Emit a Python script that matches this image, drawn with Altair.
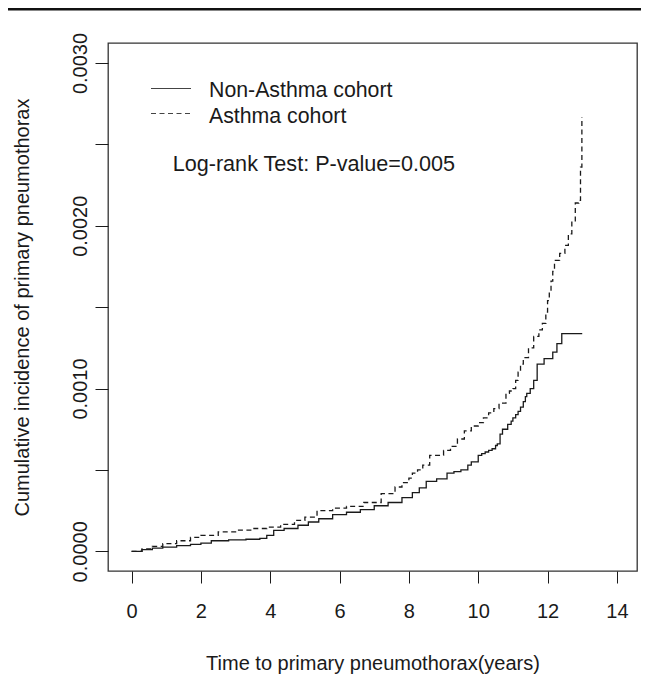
import altair as alt
import pandas as pd

# Non-Asthma cohort (solid)
non_t = [0, 0.3, 0.6, 0.9, 1.3, 1.7, 2.0, 2.3, 2.8, 3.3, 3.7, 3.9, 4.1, 4.4, 4.8, 5.1, 5.4, 5.8, 6.2, 6.6,
         7.0, 7.4, 7.8, 8.1, 8.3, 8.5, 8.8, 9.1, 9.3, 9.5, 9.7, 9.8, 10.0, 10.1, 10.2, 10.3, 10.4, 10.5, 10.55,
         10.63, 10.7, 10.85, 10.95, 11.0, 11.08, 11.15, 11.22, 11.3, 11.36, 11.4, 11.5, 11.6, 11.7, 11.9, 12.15,
         12.27, 12.41, 13.0]
non_v = [0, 0.000010, 0.000020, 0.000026, 0.000035, 0.000042, 0.000050, 0.000065, 0.000070, 0.000074,
         0.000080, 0.000098, 0.000129, 0.000140, 0.000160, 0.000180, 0.000200, 0.000225, 0.000240, 0.000256,
         0.000280, 0.000300, 0.000330, 0.000360, 0.000390, 0.000430, 0.000445, 0.000480, 0.000490, 0.000500,
         0.000530, 0.000550, 0.000590, 0.000600, 0.000610, 0.000620, 0.000630, 0.000650, 0.000660,
         0.000720, 0.000750, 0.000780, 0.000800, 0.000820, 0.000840, 0.000860, 0.000886, 0.000920, 0.000950,
         0.000970, 0.001000, 0.001050, 0.001150, 0.001184, 0.001224, 0.001276, 0.001337, 0.001337]

# Asthma cohort (dashed)
ast_t = [0, 0.3, 0.6, 0.9, 1.3, 1.7, 2.0, 2.5, 3.0, 3.5, 3.9, 4.3, 4.7, 5.0, 5.35, 5.8, 6.2, 6.7, 7.2, 7.6,
         7.8, 8.0, 8.1, 8.25, 8.4, 8.6, 9.0, 9.2, 9.4, 9.6, 9.8, 10.0, 10.15, 10.3, 10.45, 10.6, 10.8, 10.9, 11.0,
         11.08, 11.15, 11.22, 11.3, 11.45, 11.6, 11.75, 11.85, 11.95, 12.0, 12.05, 12.1, 12.15, 12.2, 12.35, 12.5,
         12.6, 12.7, 12.8, 12.9, 12.95, 12.99]
ast_v = [0, 0.000015, 0.000030, 0.000047, 0.000065, 0.000085, 0.000098, 0.000119, 0.000130, 0.000140,
         0.000149, 0.000165, 0.000190, 0.000210, 0.000250, 0.000265, 0.000276, 0.000300, 0.000354, 0.000395,
         0.000422, 0.000450, 0.000480, 0.000500, 0.000530, 0.000590, 0.000620, 0.000645, 0.000690, 0.000740,
         0.000770, 0.000790, 0.000820, 0.000850, 0.000877, 0.000910, 0.000970, 0.000985, 0.001000,
         0.001050, 0.001100, 0.001150, 0.001190, 0.001250, 0.001320, 0.001360, 0.001400, 0.001470, 0.001540,
         0.001600, 0.001660, 0.001720, 0.001787, 0.001830, 0.001880, 0.001950, 0.002030, 0.002140, 0.002156,
         0.002360, 0.002668]

x_ticks = [0, 2, 4, 6, 8, 10, 12, 14]
y_ticks = [0, 0.0005, 0.0010, 0.0015, 0.0020, 0.0025, 0.0030]

legend_labels = ["Non-Asthma cohort", "Asthma cohort"]
test_text = "Log-rank Test: P-value=0.005"

FONT = "Liberation Sans"
INK = "#1a1a1a"

df_non = pd.DataFrame({"t": non_t, "v": non_v})
df_ast = pd.DataFrame({"t": ast_t, "v": ast_v})

W, H = 529, 528

xscale = alt.Scale(domain=[-0.68, 14.58], nice=False, zero=False)
yscale = alt.Scale(domain=[-0.000121, 0.003123], nice=False, zero=False)

xaxis = alt.Axis(
    values=x_ticks, title="Time to primary pneumothorax(years)", grid=False, domain=False,
    tickSize=12, tickColor=INK, tickWidth=1, labelFontSize=20, labelFont=FONT, labelColor=INK,
    labelBaseline="alphabetic", labelPadding=34, labelOverlap=False, labelFlush=False,
    titleFontSize=20, titleFont=FONT, titleFontWeight="normal", titleColor=INK,
    titleX=264.5, titleY=98, titleBaseline="alphabetic", titleAlign="center",
)
yaxis = alt.Axis(
    values=y_ticks, title="Cumulative incidence of primary pneumothorax", grid=False, domain=False,
    tickSize=13, tickColor=INK, tickWidth=1, labelFontSize=20, labelFont=FONT, labelColor=INK,
    labelAngle=270, labelAlign="center", labelBaseline="alphabetic", labelPadding=9,
    labelOverlap=False, labelFlush=False,
    labelExpr="round(datum.value * 10000) % 10 == 0 ? format(datum.value, '.4f') : ''",
    titleFontSize=20, titleFont=FONT, titleFontWeight="normal", titleColor=INK,
    titleAngle=270, titleX=-80, titleY=264, titleBaseline="alphabetic", titleAlign="center",
)

non_line = alt.Chart(df_non).mark_line(interpolate="step-after", color=INK, strokeWidth=1.3).encode(
    x=alt.X("t:Q", scale=xscale, axis=xaxis),
    y=alt.Y("v:Q", scale=yscale, axis=yaxis),
)
ast_line = alt.Chart(df_ast).mark_line(interpolate="step-after", color=INK, strokeWidth=1.3,
                                       strokeDash=[5, 3.5]).encode(
    x=alt.X("t:Q", scale=xscale),
    y=alt.Y("v:Q", scale=yscale),
)

# manual legend and annotation (pixel positions inside plot area)
leg_solid = alt.Chart().mark_rule(color="#444", strokeWidth=1).encode(
    x=alt.value(43), x2=alt.value(83), y=alt.value(45.5))
leg_dash = alt.Chart().mark_rule(color="#444", strokeWidth=1, strokeDash=[5, 3.5]).encode(
    x=alt.value(43), x2=alt.value(83), y=alt.value(70.5))
leg_t1 = alt.Chart().mark_text(align="left", baseline="alphabetic", font=FONT, fontSize=21.3, color=INK).encode(
    x=alt.value(101), y=alt.value(54.3), text=alt.value(legend_labels[0]))
leg_t2 = alt.Chart().mark_text(align="left", baseline="alphabetic", font=FONT, fontSize=21.3, color=INK).encode(
    x=alt.value(101), y=alt.value(79.7), text=alt.value(legend_labels[1]))
test_t = alt.Chart().mark_text(align="left", baseline="alphabetic", font=FONT, fontSize=21.6, color=INK).encode(
    x=alt.value(64.7), y=alt.value(128), text=alt.value(test_text))

# figure border line at the very top
top_line = alt.Chart().mark_rule(color="#111", strokeWidth=3).encode(
    x=alt.value(-100), x2=alt.value(533), y=alt.value(-34))

chart = alt.layer(non_line, ast_line, leg_solid, leg_dash, leg_t1, leg_t2, test_t, top_line).properties(
    width=W, height=H,
    autosize=alt.AutoSizeParams(type="none"),
    padding={"left": 100, "top": 35, "right": 4, "bottom": 104},
).configure(background="white").configure_view(stroke="#333", strokeWidth=1.3)

chart.save("out.html", embed_options={"renderer": "svg", "actions": False})
